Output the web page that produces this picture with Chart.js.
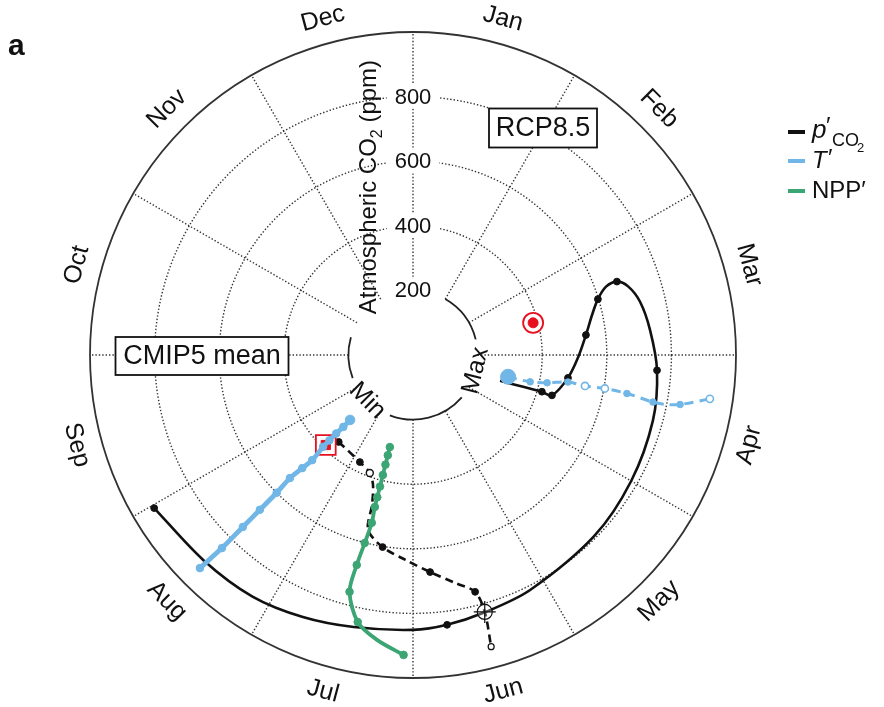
<!DOCTYPE html>
<html>
<head>
<meta charset="utf-8">
<script src="https://cdn.jsdelivr.net/npm/chart.js@4.4.1/dist/chart.umd.min.js"></script>
<style>
  html, body { margin: 0; padding: 0; background: #fff; }
  #wrap { position: relative; width: 884px; height: 707px; }
</style>
</head>
<body>
<div id="wrap"><canvas id="cycleChart" width="884" height="707"></canvas></div>
<script>
// Months round the dial, CO2 rings
const monthLabels = ['Jan', 'Feb', 'Mar', 'Apr', 'May', 'Jun', 'Jul', 'Aug', 'Sep', 'Oct', 'Nov', 'Dec'];
const co2Ticks = [200, 400, 600, 800];

// phase = months after 1 Jan, co2 = atmospheric CO2 (ppm)
// p'CO2 timing of maximum (solid black)
const pco2MaxPhase = [3.55, 3.54, 3.53, 3.54, 3.28, 3.03, 2.78, 2.58, 2.44, 2.35, 2.34, 2.41, 2.56, 2.80, 3.12, 3.51, 4.00, 4.50, 5.12, 5.48, 5.76, 6.00, 6.41, 6.76, 7.12, 7.52, 7.98];
const pco2MaxCO2 = [281, 345, 415, 448, 485, 511, 539, 568, 598, 634, 671, 699, 722, 738, 757, 770, 780, 793, 813, 827, 842, 851, 862, 880, 898, 908, 931];
const pco2MaxDots = [2, 3, 4, 6, 8, 10, 14, 20, 26];

// p'CO2 timing of minimum (dashed black)
const pco2MinPhase = [7.35, 6.88, 6.67, 6.57, 6.51, 6.48, 6.30, 6.07, 5.85, 5.65, 5.51, 5.48, 5.50];
const pco2MinCO2 = [354, 370, 389, 421, 481, 559, 602, 635, 674, 718, 758, 826, 935];
const pco2MinDots = [0, 1, 6, 8, 10];

// T' timing of minimum (solid blue) and maximum (dashed blue)
const tMinPhase = [7.47, 7.47, 7.48, 7.48, 7.48, 7.46, 7.48, 7.50, 7.49, 7.49, 7.49, 7.49, 7.50];
const tMinCO2 = [280, 310, 340, 370, 398, 451, 490, 539, 600, 674, 749, 841, 933];
const tMaxPhase = [3.43, 3.43, 3.39, 3.33, 3.34, 3.33, 3.34, 3.37, 3.37, 3.35, 3.28];
const tMaxCO2 = [302, 372, 424, 487, 541, 603, 673, 757, 795, 841, 929];
const tMaxDots = [1, 2, 3, 6, 7, 9];
const tMaxOpen = [4, 5, 10];

// NPP' (solid green)
const nppPhase = [6.47, 6.47, 6.47, 6.47, 6.47, 6.47, 6.47, 6.46, 6.48, 6.50, 6.50, 6.39, 6.24, 6.06];
const nppCO2 = [294, 320, 350, 383, 420, 454, 485, 535, 601, 673, 759, 844, 889, 929];

// observations (red)
const obsMaxPhase = [2.50], obsMaxCO2 = [385];
const obsMinPhase = [7.47], obsMinCO2 = [388];

const BLACK = '#111111', BLUE = '#70b6e6', GREEN = '#3ca574', RED = '#e8101f';
const FONT = '"Liberation Sans", Arial, Helvetica, sans-serif';

// polar (phase, ppm) -> x/y in ppm units, north = 1 Jan, clockwise
function toXY(phase, co2) {
    return phase.map((m, i) => {
        const a = m / 12 * 2 * Math.PI;
        return { x: co2[i] * Math.sin(a), y: co2[i] * Math.cos(a) };
    });
}

function pick(phase, co2, idx) {
    return toXY(idx.map(i => phase[i]), idx.map(i => co2[i]));
}

function lineSet(data, color, width, dash) {
    return {
        data: data, showLine: true, borderColor: color, borderWidth: width,
        borderDash: dash || [], pointRadius: 0, tension: 0.3, fill: false
    };
}

function dotSet(data, color, radius, opts) {
    return Object.assign({
        data: data, showLine: false, pointRadius: radius, pointHoverRadius: radius,
        pointBackgroundColor: color, pointBorderColor: color, pointBorderWidth: 1
    }, opts || {});
}

const all = i => [...Array(i).keys()];

const datasets = [
    // top-most first
    dotSet(pick(tMinPhase, tMinCO2, all(tMinPhase.length).slice(1)), BLUE, 3.8),
    dotSet(pick(tMinPhase, tMinCO2, [0]), BLUE, 4.8),
    lineSet(toXY(tMinPhase, tMinCO2), BLUE, 4.8),
    dotSet(pick(tMaxPhase, tMaxCO2, tMaxDots), BLUE, 3.3),
    dotSet(pick(tMaxPhase, tMaxCO2, tMaxOpen), '#ffffff', 3.6, { pointBorderColor: BLUE, pointBorderWidth: 1.6 }),
    dotSet(pick(tMaxPhase, tMaxCO2, [0]), BLUE, 7.5),
    lineSet(toXY(tMaxPhase, tMaxCO2), BLUE, 3, [9, 6]),
    dotSet(pick(nppPhase, nppCO2, [0, 1, 2, 3, 4, 5, 6, 7, 8, 9, 10, 11, 13]), GREEN, 3.8),
    lineSet(toXY(nppPhase, nppCO2), GREEN, 3.8),
    // observed min (red square) and max (red target)
    dotSet(toXY(obsMinPhase, obsMinCO2), RED, 6.5, { pointStyle: 'rect' }),
    dotSet(toXY(obsMinPhase, obsMinCO2), 'rgba(255,255,255,0.9)', 14, { pointStyle: 'rect', pointBorderColor: RED, pointBorderWidth: 1.8 }),
    dotSet(toXY(obsMaxPhase, obsMaxCO2), RED, 5),
    dotSet(toXY(obsMaxPhase, obsMaxCO2), '#ffffff', 10, { pointBorderColor: RED, pointBorderWidth: 1.8 }),
    // p'CO2 minimum markers + dashed line
    dotSet(pick(pco2MinPhase, pco2MinCO2, [11]), BLACK, 11, { pointStyle: 'cross', pointBorderWidth: 1.2 }),
    dotSet(pick(pco2MinPhase, pco2MinCO2, [11]), 'rgba(255,255,255,0.3)', 7.5, { pointBorderColor: BLACK, pointBorderWidth: 1.2 }),
    dotSet(pick(pco2MinPhase, pco2MinCO2, [12]), '#ffffff', 3, { pointBorderColor: BLACK, pointBorderWidth: 1.2 }),
    dotSet(pick(pco2MinPhase, pco2MinCO2, [2]), '#ffffff', 3.5, { pointBorderColor: BLACK, pointBorderWidth: 1.4 }),
    dotSet(pick(pco2MinPhase, pco2MinCO2, pco2MinDots), BLACK, 3.4),
    lineSet(toXY(pco2MinPhase, pco2MinCO2), BLACK, 2.6, [8, 5]),
    // p'CO2 maximum
    dotSet(pick(pco2MaxPhase, pco2MaxCO2, pco2MaxDots), BLACK, 3.4),
    lineSet(toXY(pco2MaxPhase, pco2MaxCO2), BLACK, 2.6)
];

// Polar grid, labels, boxes and legend
const polarFrame = {
    id: 'polarFrame',
    beforeDatasetsDraw(chart) {
        const { ctx, scales: { x, y } } = chart;
        const cx = x.getPixelForValue(0), cy = y.getPixelForValue(0);
        const rad = v => x.getPixelForValue(v) - cx;
        const ang = d => (d - 90) * Math.PI / 180;
        const at = (d, r) => [cx + r * Math.sin(d * Math.PI / 180), cy - r * Math.cos(d * Math.PI / 180)];

        ctx.save();
        // dotted rings and spokes
        ctx.strokeStyle = '#333';
        ctx.lineWidth = 1.4;
        ctx.setLineDash([1.4, 2]);
        co2Ticks.slice(1).forEach(v => {
            ctx.beginPath();
            ctx.arc(cx, cy, rad(v), 0, 2 * Math.PI);
            ctx.stroke();
        });
        for (let k = 0; k < 12; k++) {
            const p0 = at(k * 30, rad(200)), p1 = at(k * 30, rad(1000));
            ctx.beginPath();
            ctx.moveTo(p0[0], p0[1]);
            ctx.lineTo(p1[0], p1[1]);
            ctx.stroke();
        }
        ctx.setLineDash([]);

        // outer rim
        ctx.strokeStyle = '#333';
        ctx.lineWidth = 1.8;
        ctx.beginPath();
        ctx.arc(cx, cy, rad(1000), 0, 2 * Math.PI);
        ctx.stroke();

        // inner rim, broken for labels
        ctx.strokeStyle = '#222';
        ctx.lineWidth = 1.8;
        [[30, 76], [131, 201], [249, 286]].forEach(([a0, a1]) => {
            ctx.beginPath();
            ctx.arc(cx, cy, rad(200), ang(a0), ang(a1));
            ctx.stroke();
        });

        // radial tick labels with white backdrop
        ctx.fillStyle = '#111';
        ctx.font = '22px ' + FONT;
        ctx.textAlign = 'center';
        ctx.textBaseline = 'middle';
        co2Ticks.forEach(v => {
            const ty = cy - rad(v);
            const w = ctx.measureText(String(v)).width;
            ctx.fillStyle = '#fff';
            ctx.fillRect(cx - w / 2 - 8, ty - 12, w + 16, 24);
            ctx.fillStyle = '#111';
            ctx.fillText(String(v), cx, ty + 1);
        });

        // axis title, rotated
        ctx.save();
        ctx.translate(cx - 45, cy - rad(520));
        ctx.rotate(-Math.PI / 2);
        const t1 = 'Atmospheric CO', t3 = ' (ppm)';
        ctx.font = '24px ' + FONT;
        const w1 = ctx.measureText(t1).width, w3 = ctx.measureText(t3).width;
        ctx.font = '16px ' + FONT;
        const w2 = ctx.measureText('2').width;
        const sx = -(w1 + w2 + w3) / 2;
        ctx.textAlign = 'left';
        ctx.textBaseline = 'alphabetic';
        ctx.font = '24px ' + FONT;
        ctx.fillText(t1, sx, 8);
        ctx.font = '16px ' + FONT;
        ctx.fillText('2', sx + w1, 14);
        ctx.font = '24px ' + FONT;
        ctx.fillText(t3, sx + w1 + w2, 8);
        ctx.restore();

        // month labels
        ctx.font = '25px ' + FONT;
        ctx.textAlign = 'center';
        ctx.textBaseline = 'middle';
        monthLabels.forEach((m, k) => {
            const d = 15 + 30 * k;
            const p = at(d, rad(1000) + 25);
            let rot = d;
            if (d > 90 && d < 270) rot = d - 180;
            else if (d >= 270) rot = d - 360;
            ctx.save();
            ctx.translate(p[0], p[1]);
            ctx.rotate(rot * Math.PI / 180);
            ctx.fillText(m, 0, 0);
            ctx.restore();
        });

        // Max / Min on the inner rim
        [['Max', 104], ['Min', 225]].forEach(([txt, d]) => {
            const p = at(d, rad(200));
            ctx.save();
            ctx.translate(p[0], p[1]);
            ctx.rotate((d - 180) * Math.PI / 180);
            ctx.fillText(txt, 0, 0);
            ctx.restore();
        });

        // boxed labels
        ctx.font = '27px ' + FONT;
        [['RCP8.5', 543, 128, 108, 39], ['CMIP5 mean', 202, 356, 173, 38]].forEach(([txt, bx, by, bw, bh]) => {
            ctx.fillStyle = '#fff';
            ctx.fillRect(bx - bw / 2, by - bh / 2, bw, bh);
            ctx.strokeStyle = '#111';
            ctx.lineWidth = 1.8;
            ctx.strokeRect(bx - bw / 2, by - bh / 2, bw, bh);
            ctx.fillStyle = '#111';
            ctx.fillText(txt, bx, by + 1);
        });

        // panel letter
        ctx.textAlign = 'left';
        ctx.textBaseline = 'alphabetic';
        ctx.font = 'bold 30px ' + FONT;
        ctx.fillText('a', 8, 55);

        // legend
        const keys = [[BLACK, 132], [BLUE, 161], [GREEN, 191]];
        ctx.lineWidth = 4;
        keys.forEach(([c, ly]) => {
            ctx.strokeStyle = c;
            ctx.beginPath();
            ctx.moveTo(788, ly);
            ctx.lineTo(805, ly);
            ctx.stroke();
        });
        ctx.fillStyle = '#111';
        ctx.font = 'italic 26px ' + FONT;
        ctx.fillText('p', 812, 138);
        ctx.font = '24px ' + FONT;
        ctx.fillText('\u2032', 826, 134);
        ctx.font = '18px ' + FONT;
        ctx.fillText('CO', 832, 146);
        ctx.font = '13px ' + FONT;
        ctx.fillText('2', 857, 152);
        ctx.font = 'italic 24px ' + FONT;
        ctx.fillText('T', 812, 168);
        ctx.font = '24px ' + FONT;
        ctx.fillText('\u2032', 828, 166);
        ctx.fillText('NPP\u2032', 812, 198);

        ctx.restore();
    }
};

new Chart(document.getElementById('cycleChart'), {
    type: 'scatter',
    data: { datasets: datasets },
    options: {
        responsive: false,
        animation: false,
        devicePixelRatio: 1,
        layout: { padding: { left: 90, right: 148, top: 32, bottom: 29 } },
        scales: {
            x: { type: 'linear', min: -1000, max: 1000, display: false },
            y: { type: 'linear', min: -1000, max: 1000, display: false }
        },
        plugins: { legend: { display: false }, tooltip: { enabled: false } }
    },
    plugins: [polarFrame]
});
</script>
</body>
</html>
